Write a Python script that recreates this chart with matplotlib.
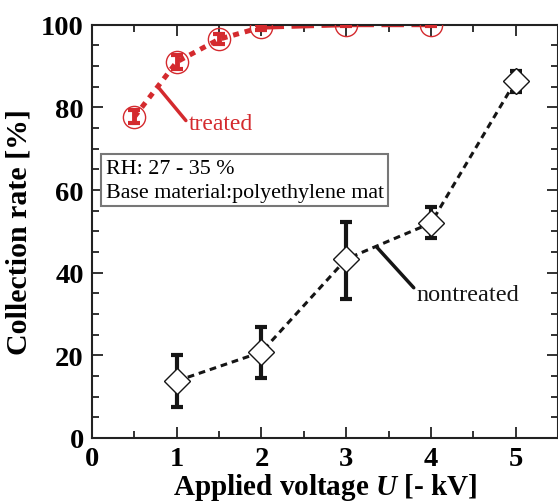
import numpy as np
import matplotlib
matplotlib.use('Agg')
import matplotlib.pyplot as plt
from matplotlib.ticker import MultipleLocator

# nontreated data
volt_non = [1, 2, 3, 4, 5]
rate_non = [13.8, 20.8, 43.3, 52.0, 86.4]
err_lo_non = [6.3, 6.3, 9.7, 3.6, 2.7]
err_hi_non = [6.3, 6.1, 9.0, 3.9, 2.4]

# treated data
volt_tr = [0.5, 1, 1.5, 2, 3, 4]
rate_tr = [77.7, 91.0, 96.5, 99.4, 100.0, 100.0]
err_tr = [1.6, 1.6, 1.2, 0.6, 0.3, 0.3]

red = '#d42a2e'

plt.rcParams['font.family'] = ['Liberation Serif', 'DejaVu Serif']
plt.rcParams['mathtext.fontset'] = 'custom'
plt.rcParams['mathtext.it'] = 'Liberation Serif:italic:bold'

fig = plt.figure(figsize=(5.58, 5.02), dpi=100)
ax = fig.add_axes([0.165, 0.1255, 0.835, 0.8233])

# nontreated
ax.errorbar(volt_non, rate_non, yerr=[err_lo_non, err_hi_non], fmt='none',
            ecolor='#151515', elinewidth=3, capsize=4.5, capthick=3, zorder=3)
ax.plot(volt_non, rate_non, linestyle=(0, (2.2, 1.6)), color='#151515', lw=2.2,
        marker='D', ms=13, mfc='white', mec='#151515', mew=1.0, zorder=4)

# treated
ax.errorbar(volt_tr, rate_tr, yerr=err_tr, fmt='none', ecolor=red,
            elinewidth=3.5, capsize=4, capthick=3, zorder=3)
ax.plot(volt_tr[:4], rate_tr[:4], linestyle=(0, (1.2, 1.2)), color=red, lw=3.6, zorder=2)
ax.plot(volt_tr[3:], rate_tr[3:], linestyle=(0, (4.5, 1.5)), color=red, lw=3.6, zorder=2)
ax.plot(volt_tr, rate_tr, linestyle='none', marker='o', ms=16, mfc='none',
        mec=red, mew=1.0, zorder=4)

# annotations
ax.annotate('treated', xy=(0.78, 84.9), xytext=(1.14, 76.0), color=red,
            fontsize=17, va='center', ha='left',
            arrowprops=dict(arrowstyle='-', color=red, lw=2.5, shrinkA=0, shrinkB=0,
                            relpos=(0, 0.5)))
ax.annotate('nontreated', xy=(3.36, 46.2), xytext=(3.83, 34.6), color='#151515',
            fontsize=17.5, va='center', ha='left',
            arrowprops=dict(arrowstyle='-', color='#151515', lw=2.5, shrinkA=0, shrinkB=0,
                            relpos=(0, 0.7)))

ax.text(0.16, 62.4, 'RH: 27 - 35 %\nBase material:polyethylene mat', fontsize=15.8,
        va='center', ha='left', linespacing=1.35,
        bbox=dict(boxstyle='square,pad=0.2', fc='white', ec='#777777', lw=1.5))

ax.set_xlim(0, 5.5)
ax.set_ylim(0, 100)
ax.xaxis.set_major_locator(MultipleLocator(1))
ax.xaxis.set_minor_locator(MultipleLocator(0.5))
ax.yaxis.set_major_locator(MultipleLocator(20))
ax.yaxis.set_minor_locator(MultipleLocator(5))
ax.tick_params(which='both', direction='in', top=True, right=True, width=1.3,
               color='#222222')
ax.tick_params(which='major', length=8, labelsize=20.5, pad=6)
ax.tick_params(which='minor', length=5)
for lab in ax.get_xticklabels() + ax.get_yticklabels():
    lab.set_fontweight('bold')
for s in ax.spines.values():
    s.set_linewidth(1.5)
    s.set_color('#222222')

ax.set_xlabel('Applied voltage $U$ [- kV]', fontsize=21, fontweight='bold', labelpad=0)
ax.set_ylabel('Collection rate [%]', fontsize=21.5, fontweight='bold', labelpad=6)

fig.savefig('out.png', dpi=100)
